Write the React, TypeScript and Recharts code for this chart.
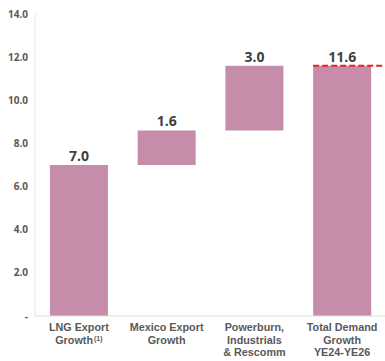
import React from 'react';
import { BarChart, Bar, XAxis, YAxis, LabelList } from 'recharts';

// waterfall: invisible base + visible step
const categories = ['LNG Export Growth', 'Mexico Export Growth', 'Powerburn, Industrials & Rescomm', 'Total Demand Growth YE24-YE26'];
const tickLines = [
  ['LNG Export', 'Growth'],
  ['Mexico Export', 'Growth'],
  ['Powerburn,', 'Industrials', '& Rescomm'],
  ['Total Demand', 'Growth', 'YE24-YE26'],
];
const baseValues = [0, 7.0, 8.6, 0];
const stepValues = [7.0, 1.6, 3.0, 11.6];
const yTicks = [0, 2, 4, 6, 8, 10, 12, 14];

const data = categories.map((name, i) => ({
  name,
  base: baseValues[i],
  step: stepValues[i],
  isTotal: i === categories.length - 1,
}));

const FONT = '"Open Sans", "DejaVu Sans", sans-serif';
const TICK_FONT = '"Liberation Sans", Arial, sans-serif';
const BAR_COLOR = '#C58DAA';
const TEXT_GREY = '#595959';
const LINE_H = 12.5;

const CategoryTick = (props: any) => {
  const { x, y, index } = props;
  const lines = tickLines[index] || [];
  return (
    <text
      x={x}
      y={y + 7}
      textAnchor="middle"
      fill={TEXT_GREY}
      fontSize={10.8}
      fontWeight={700}
      fontFamily={TICK_FONT}
    >
      {lines.map((line, i) => (
        <tspan key={i} x={x} y={y + 7 + i * LINE_H}>
          {line}
          {index === 0 && i === 1 && (
            <tspan fontSize={7} dx={1} dy={-3}>(1)</tspan>
          )}
        </tspan>
      ))}
    </text>
  );
};

const StepShape = (props: any) => {
  const { x, y, width, height, payload } = props;
  return (
    <g>
      <rect x={x} y={y} width={width} height={height} fill={BAR_COLOR} />
      {payload.isTotal && (
        <line
          x1={x}
          y1={y}
          x2={x + width + 14}
          y2={y}
          stroke="#E8212A"
          strokeWidth={2}
          strokeDasharray="6 3"
        />
      )}
    </g>
  );
};

const App = () => {
  return (
    <div style={{ position: 'absolute', left: 0, top: 0 }}>
      <BarChart
        width={386}
        height={361}
        data={data}
        margin={{ top: 14, right: 0, bottom: 0, left: 0 }}
        barCategoryGap="17%"
      >
        <XAxis
          dataKey="name"
          height={45}
          tickLine={false}
          axisLine={{ stroke: '#DDDDDD', strokeWidth: 1 }}
          tick={<CategoryTick />}
          interval={0}
        />
        <YAxis
          width={35}
          domain={[0, 14]}
          ticks={yTicks}
          tickLine={false}
          tickSize={5}
          axisLine={{ stroke: '#E6E6E6', strokeWidth: 1 }}
          tickFormatter={(v: number) => (v === 0 ? '-' : v.toFixed(1))}
          tick={{ fill: TEXT_GREY, fontSize: 10, fontWeight: 700, fontFamily: FONT }}
        />
        <Bar dataKey="base" stackId="w" fill="transparent" isAnimationActive={false} />
        <Bar dataKey="step" stackId="w" shape={<StepShape />} isAnimationActive={false}>
          <LabelList
            dataKey="step"
            position="top"
            offset={4}
            formatter={(v: number) => v.toFixed(1)}
            fill="#404040"
            fontSize={14}
            fontWeight={700}
            fontFamily={FONT}
          />
        </Bar>
      </BarChart>
    </div>
  );
};

export default App;
